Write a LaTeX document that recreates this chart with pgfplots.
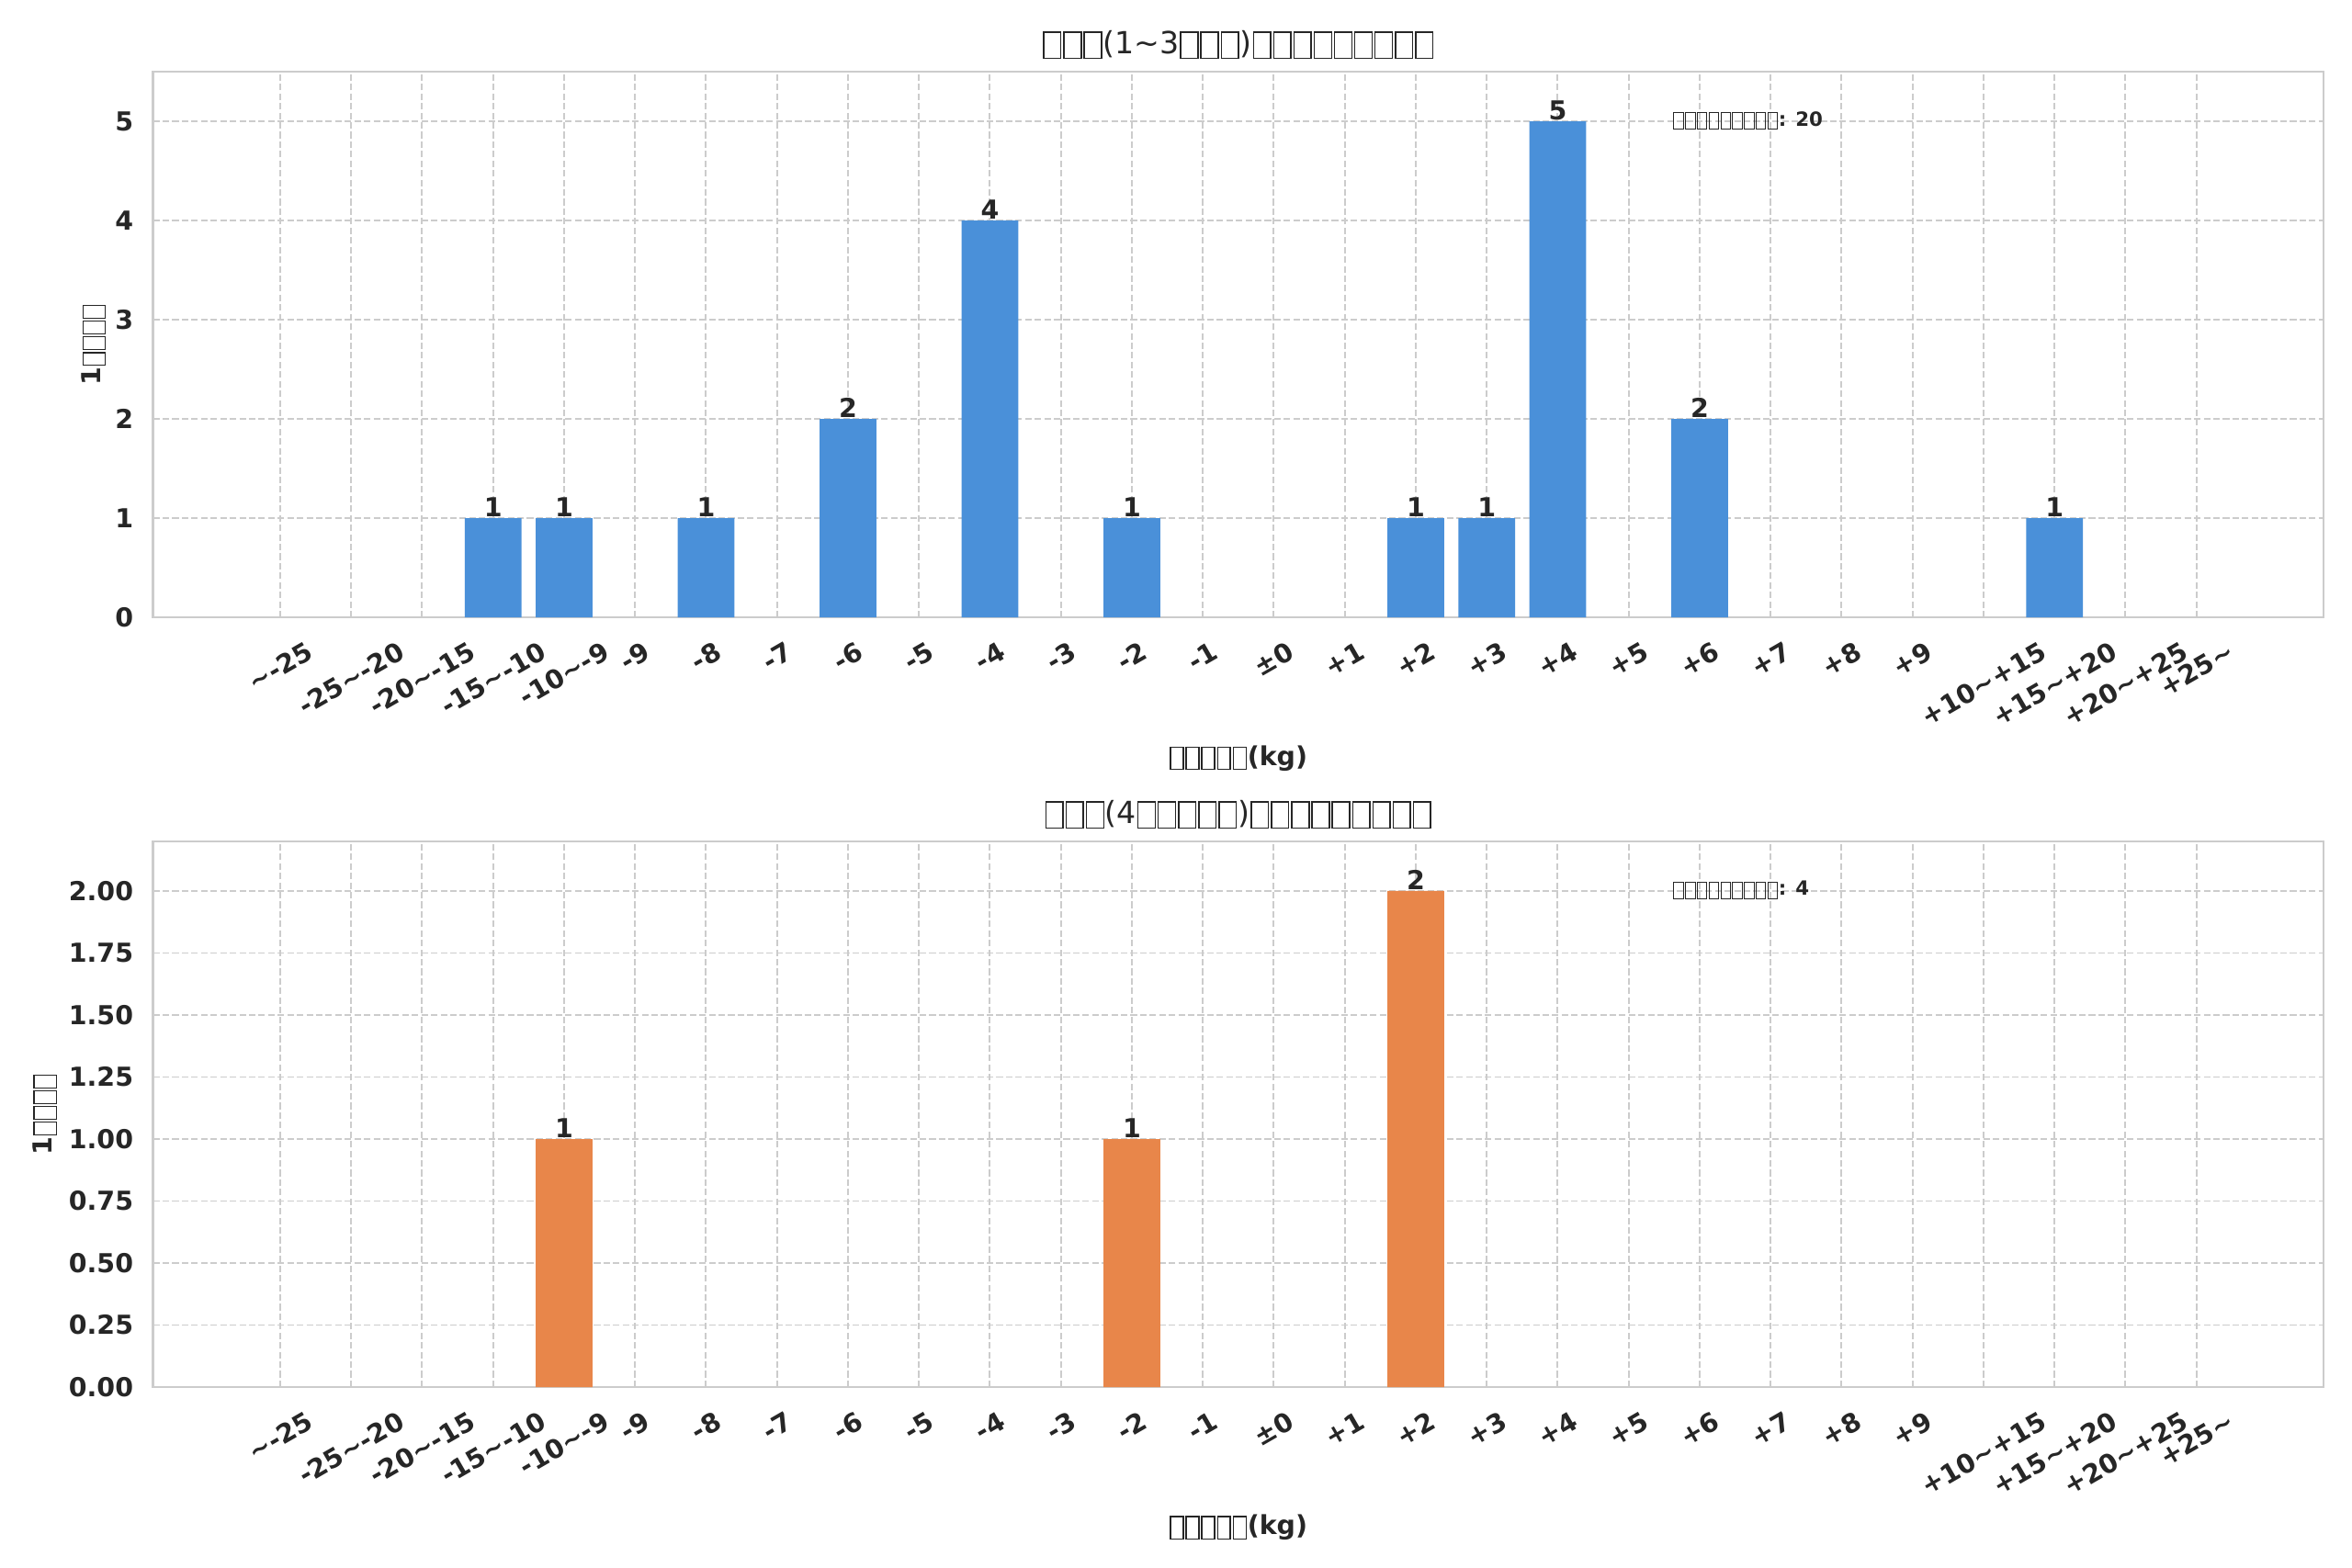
\documentclass[border=0pt]{standalone}
\usepackage{pgfplots}
\pgfplotsset{compat=1.18}
\usepackage{fontspec}
\setmainfont{DejaVu Sans}
\usepackage{graphicx}
\definecolor{txt}{HTML}{262626}
\definecolor{gridc}{HTML}{CCCCCC}
\definecolor{barblue}{HTML}{4A90D9}
\definecolor{barorange}{HTML}{E8864A}
\newcommand\T{\char"7E\relax}
\newcommand\tofu{\hbox to 0.6em{\hss\setlength\fboxsep{0pt}\setlength\fboxrule{0.05em}\raisebox{-0.13em}{\fbox{\rule{0pt}{0.8em}\rule{0.44em}{0pt}}}\hss}}
\newcommand\tofuT{\hbox to 0.665em{\hss\setlength\fboxsep{0pt}\setlength\fboxrule{0.045em}\raisebox{-0.14em}{\fbox{\rule{0pt}{0.82em}\rule{0.52em}{0pt}}}\hss}}
\newcommand\rl[1]{\rotatebox{30}{#1}}
\pgfplotsset{mystyle/.style={
  scale only axis, width=996.6pt, height=250.6pt,
  xmin=-1.79, xmax=28.79, ymin=0,
  xtick={0,...,27},
  xticklabels={\rl{\T-25},\rl{-25\T-20},\rl{-20\T-15},\rl{-15\T-10},\rl{-10\T-9},\rl{-9},\rl{-8},\rl{-7},\rl{-6},\rl{-5},\rl{-4},\rl{-3},\rl{-2},\rl{-1},\rl{±0},\rl{+1},\rl{+2},\rl{+3},\rl{+4},\rl{+5},\rl{+6},\rl{+7},\rl{+8},\rl{+9},\rl{+10\T+15},\rl{+15\T+20},\rl{+20\T+25},\rl{+25\T}},
  major tick length=0pt,
  grid=major,
  major grid style={gridc, line width=0.8pt, dash pattern=on 3pt off 1.4pt},
  axis line style={gridc, line width=1pt},
  tick label style={font=\fontsize{12}{14}\selectfont\bfseries, text=txt},
  xticklabel style={anchor=north, inner sep=0pt, yshift=-10.5pt},
  yticklabel style={anchor=east, inner sep=0pt, xshift=-8.9pt},
  /pgf/number format/assume math mode=true,
  every axis label/.style={font=\fontsize{12}{14}\selectfont\bfseries, text=txt, inner sep=0pt},
  every axis x label/.style={at={(rel axis cs:0.5,0)}, yshift=-67.9pt, anchor=base},
  every axis title/.style={at={(rel axis cs:0.5,1)}, yshift=8.4pt, anchor=base, inner sep=0pt, font=\fontsize{14}{17}\selectfont, text=txt},
  xlabel={\tofu\tofu\tofu\tofu\tofu(kg)},
  ylabel={1\tofu\tofu\tofu\tofu},
  nodes near coords,
  every node near coord/.append style={font=\fontsize{12}{14}\selectfont\bfseries, text=txt, anchor=base, inner sep=0pt, yshift=0.6pt},
  ybar, bar width=0.8,
}}
\begin{document}
\begin{tikzpicture}
\useasboundingbox (0,0) rectangle (1080pt,720.14pt);
\begin{axis}[mystyle, at={(70.3pt,436.6pt)}, anchor=south west,
  ymax=5.5, ytick={0,1,2,3,4,5},
  every axis y label/.style={at={(rel axis cs:0,0.5)}, xshift=-23.9pt, rotate=90, anchor=base},
  title={\tofuT\tofuT\tofuT(1\T3\tofuT\tofuT\tofuT)\tofuT\tofuT\tofuT\tofuT\tofuT\tofuT\tofuT\tofuT\tofuT}]
\addplot[fill=barblue, draw=none] coordinates {(3,1) (4,1) (6,1) (8,2) (10,4) (12,1) (16,1) (17,1) (18,5) (20,2) (25,1)};
\node[anchor=base west, font=\fontsize{9}{11}\selectfont\bfseries, text=txt, inner sep=0pt] at (rel axis cs:0.7,0.9007) {\tofu\tofu\tofu\tofu\tofu\tofu\tofu\tofu\tofu: 20};
\end{axis}
\begin{axis}[mystyle, at={(70.3pt,83.1pt)}, anchor=south west,
  ymax=2.2, ytick={0,0.25,0.5,0.75,1,1.25,1.5,1.75,2},
  yticklabel style={/pgf/number format/.cd, fixed, fixed zerofill, precision=2},
  every axis y label/.style={at={(rel axis cs:0,0.5)}, xshift=-46.3pt, rotate=90, anchor=base},
  title={\tofuT\tofuT\tofuT(4\tofuT\tofuT\tofuT\tofuT\tofuT)\tofuT\tofuT\tofuT\tofuT\tofuT\tofuT\tofuT\tofuT\tofuT}]
\addplot[fill=barorange, draw=none] coordinates {(4,1) (12,1) (16,2)};
\node[anchor=base west, font=\fontsize{9}{11}\selectfont\bfseries, text=txt, inner sep=0pt] at (rel axis cs:0.7,0.9007) {\tofu\tofu\tofu\tofu\tofu\tofu\tofu\tofu\tofu: 4};
\end{axis}
\end{tikzpicture}
\end{document}
